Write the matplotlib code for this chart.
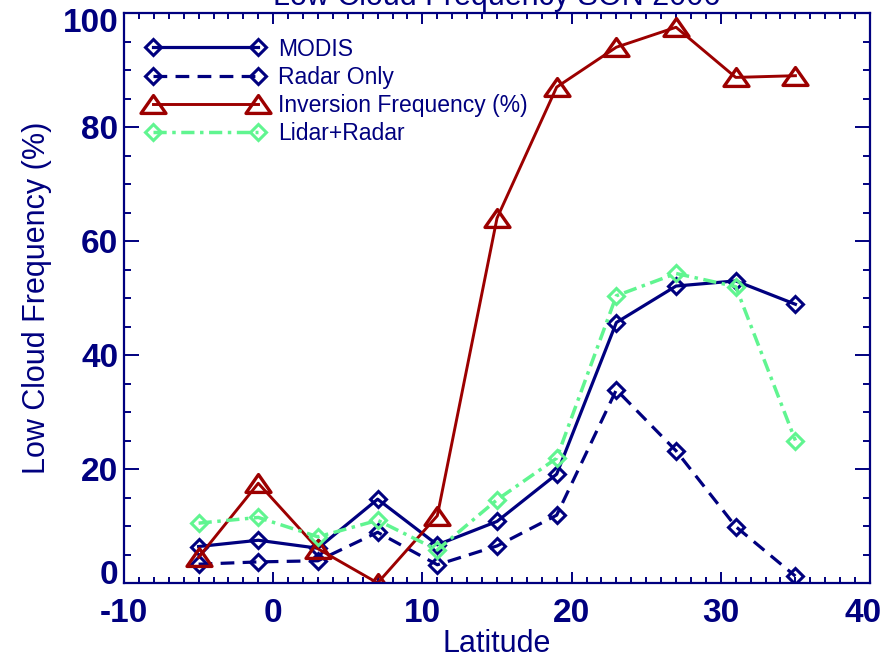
import matplotlib
matplotlib.use('Agg')
import matplotlib.pyplot as plt
import matplotlib.transforms as mtransforms
from matplotlib.path import Path

navy = '#00007f'
dark_red = '#9c0000'
light_green = '#60f590'

# latitude bins and low cloud frequencies (%)
lat = [-5, -1, 3, 7, 11, 15, 19, 23, 27, 31, 35]
modis = [6.4, 7.5, 6.1, 14.7, 6.7, 10.8, 19.1, 45.7, 52.1, 53.0, 48.9]
radar_only = [3.3, 3.7, 3.9, 8.9, 3.2, 6.5, 11.9, 33.9, 23.2, 9.9, 1.2]
inversion = [4.5, 17.5, 6.0, 0.0, 11.8, 64.0, 87.0, 94.0, 97.5, 88.7, 89.0]
lidar_radar = [10.5, 11.5, 8.1, 11.0, 5.8, 14.6, 21.9, 50.4, 54.3, 52.0, 25.0]

plt.rcParams['font.family'] = ['Liberation Sans', 'DejaVu Sans']
plt.rcParams['text.color'] = navy
plt.rcParams['axes.unicode_minus'] = False

fig = plt.figure(figsize=(8.92, 6.6), dpi=100)
ax = fig.add_axes([124 / 892, 77 / 660, 746 / 892, 570 / 660])

# wide open triangle like the IDL symbol
tri = Path([(0, 1), (-1.4, -1), (1.4, -1), (0, 1)], closed=True)

ax.plot(lat, modis, color=navy, lw=2.3, marker='D', ms=8, mfc='none',
        mew=2.2, label='MODIS')
ax.plot(lat, radar_only, color=navy, lw=2.3, marker='D', ms=8, mfc='none',
        mew=2.2, dashes=(4.3, 2.6), label='Radar Only')
ax.plot(lat, inversion, color=dark_red, lw=2.1, marker=tri, ms=18, mfc='none',
        mew=2.4, label='Inversion Frequency (%)')
ax.plot(lat, lidar_radar, color=light_green, lw=2.5, marker='D', ms=8,
        mfc='none', mew=2.2, dashes=(3.8, 1.6, 1.0, 1.6), label='Lidar+Radar')

ax.set_xlim(-10, 40)
ax.set_ylim(0, 100)
ax.set_xticks([-10, 0, 10, 20, 30, 40])
ax.set_yticks([0, 20, 40, 60, 80, 100])
ax.set_xticks(range(-10, 41), minor=True)
ax.set_yticks(range(0, 101, 5), minor=True)

for s in ax.spines.values():
    s.set_color(navy)
    s.set_linewidth(1.6)
ax.tick_params(axis='both', which='both', direction='in', colors=navy,
               top=True, right=True, width=1.4)
ax.tick_params(axis='x', which='major', length=8, pad=11, labelsize=24)
ax.tick_params(axis='x', which='minor', length=4)
ax.tick_params(axis='y', which='major', length=11, pad=4, labelsize=24)
ax.tick_params(axis='y', which='minor', length=5)
for t in ax.get_xticklabels() + ax.get_yticklabels():
    t.set_fontweight('bold')


def shift(label, dx, dy):
    off = mtransforms.ScaledTranslation(dx / 72, dy / 72, fig.dpi_scale_trans)
    label.set_transform(label.get_transform() + off)


ylabs = ax.get_yticklabels()
shift(ylabs[0], 0, 8)
shift(ylabs[-1], 0, -5)
shift(ax.get_xticklabels()[-1], -5, 0)

ax.set_xlabel('Latitude', fontsize=22, color=navy, labelpad=0)
ax.set_ylabel('Low Cloud Frequency (%)', fontsize=22, color=navy, labelpad=8)

# title sits partly above the top edge, as in the original
fig.text(497 / 892, 1 - 5 / 660, 'Low Cloud Frequency SON 2006', fontsize=22,
         ha='center', va='baseline', color=navy)

leg = ax.legend(loc='upper left', bbox_to_anchor=(0.030, 0.957), frameon=False,
                fontsize=16.5, numpoints=2, handlelength=5.15, handletextpad=0.6,
                labelspacing=0.22, borderpad=0, borderaxespad=0)
for t in leg.get_texts():
    t.set_color(navy)

fig.savefig('out.png', dpi=100)
